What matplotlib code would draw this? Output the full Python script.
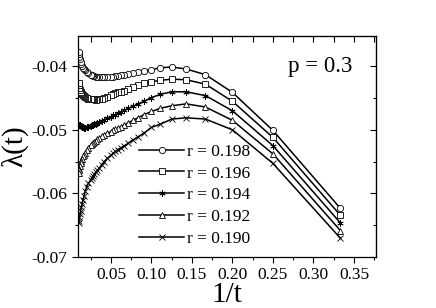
import matplotlib
matplotlib.use("Agg")
import matplotlib.pyplot as plt
from matplotlib.ticker import MultipleLocator, FormatStrFormatter

plt.rcParams['font.family'] = ['Liberation Serif', 'DejaVu Serif']
plt.rcParams['axes.unicode_minus'] = False

t_vals = [3, 4, 5, 6, 7, 8, 9, 10, 11, 12, 13, 14, 15, 16, 17, 18, 19, 20,
          22, 24, 26, 28, 30, 32, 34, 36, 38, 40,
          45, 50, 55, 60, 65, 70, 75, 80, 85, 90, 95, 100]

lam_198 = [-0.0624, -0.0501, -0.0441, -0.0413, -0.0404, -0.0401, -0.0402, -0.0405, -0.0407, -0.0409,
           -0.04105, -0.0412, -0.0413, -0.0414, -0.0415, -0.04155, -0.0416, -0.04163,
           -0.04167, -0.0417, -0.0417, -0.0417, -0.0416, -0.0416, -0.0415, -0.0415, -0.0414, -0.0413,
           -0.0411, -0.0408, -0.0406, -0.0404, -0.0402, -0.0399, -0.0396, -0.0393, -0.0389, -0.0385, -0.0381, -0.0377]
lam_196 = [-0.0635, -0.0512, -0.0455, -0.0428, -0.0421, -0.0420, -0.0422, -0.0424, -0.0426, -0.0430,
           -0.0433, -0.0436, -0.0438, -0.0440, -0.0441, -0.0442, -0.0444, -0.0445,
           -0.0448, -0.0450, -0.0451, -0.0452, -0.0452, -0.04525, -0.0452, -0.0452, -0.0452, -0.0451,
           -0.04515, -0.0450, -0.0448, -0.0447, -0.0445, -0.0443, -0.0442, -0.0440, -0.0437, -0.0434, -0.0430, -0.0426]
lam_194 = [-0.0647, -0.0525, -0.0470, -0.0446, -0.0440, -0.0440, -0.0444, -0.0449, -0.0455, -0.0459,
           -0.0463, -0.0466, -0.0469, -0.0472, -0.0474, -0.0476, -0.0477, -0.0479,
           -0.0482, -0.0484, -0.0486, -0.0488, -0.0489, -0.0490, -0.0491, -0.0492, -0.0493, -0.0494,
           -0.0495, -0.0496, -0.0497, -0.0497, -0.0496, -0.0495, -0.0494, -0.0494, -0.0493, -0.0493, -0.0492, -0.0492]
lam_192 = [-0.0659, -0.0538, -0.0485, -0.0464, -0.0459, -0.0462, -0.0466, -0.0471, -0.0476, -0.0481,
           -0.0485, -0.0489, -0.0492, -0.0495, -0.0497, -0.0499, -0.0501, -0.0503,
           -0.0505, -0.0508, -0.0510, -0.0513, -0.0515, -0.0517, -0.0519, -0.0521, -0.0522, -0.0524,
           -0.0528, -0.0532, -0.0536, -0.0539, -0.0542, -0.0546, -0.0549, -0.0553, -0.0557, -0.0561, -0.0564, -0.0568]
lam_190 = [-0.0671, -0.0553, -0.0500, -0.0483, -0.0481, -0.0483, -0.0491, -0.0496, -0.0505, -0.0511,
           -0.0516, -0.0521, -0.0525, -0.0528, -0.0531, -0.0534, -0.0537, -0.0540,
           -0.0545, -0.0550, -0.0555, -0.0560, -0.0564, -0.0567, -0.0570, -0.0573, -0.0576, -0.0579,
           -0.0584, -0.0590, -0.0597, -0.0605, -0.0611, -0.0617, -0.0622, -0.0628, -0.0633, -0.0638, -0.0643, -0.0647]

series = [("r = 0.198", lam_198, "o"),
          ("r = 0.196", lam_196, "s"),
          ("r = 0.194", lam_194, (6, 2, 0)),
          ("r = 0.192", lam_192, "^"),
          ("r = 0.190", lam_190, "x")]

inv_t = [1.0 / t for t in t_vals]

fig = plt.figure(figsize=(4.36, 3.08), dpi=100)
ax = fig.add_axes([0.1789, 0.1666, 0.6828, 0.7165])

for label, vals, mk in series:
    ax.plot(inv_t, vals, color='black', lw=1.1, marker=mk, markersize=4.5,
            markerfacecolor='white', markeredgecolor='black', markeredgewidth=0.6,
            label=label)

ax.set_xlim(0.0093, 0.3768)
ax.set_ylim(-0.07, -0.0352)
ax.xaxis.set_major_locator(MultipleLocator(0.05))
ax.xaxis.set_minor_locator(MultipleLocator(0.025))
ax.yaxis.set_major_locator(MultipleLocator(0.01))
ax.yaxis.set_minor_locator(MultipleLocator(0.005))
ax.xaxis.set_major_formatter(FormatStrFormatter('%.2f'))
ax.yaxis.set_major_formatter(FormatStrFormatter('%.2f'))
ax.set_xticks([0.05, 0.10, 0.15, 0.20, 0.25, 0.30, 0.35])

ax.tick_params(which='both', bottom=True, left=True, top=False, right=False,
               direction='out', labelsize=12.5, width=0.8)
ax.tick_params(which='major', length=4.5)
ax.tick_params(which='minor', length=2.5)
ax.tick_params(axis='x', pad=3)

# inward ticks on top/right
sec_x = ax.secondary_xaxis('top')
sec_x.xaxis.set_major_locator(MultipleLocator(0.05))
sec_x.xaxis.set_minor_locator(MultipleLocator(0.025))
sec_x.tick_params(which='both', direction='in', labeltop=False, width=0.8)
sec_x.tick_params(which='major', length=4.5)
sec_x.tick_params(which='minor', length=4)
sec_y = ax.secondary_yaxis('right')
sec_y.yaxis.set_major_locator(MultipleLocator(0.01))
sec_y.yaxis.set_minor_locator(MultipleLocator(0.005))
sec_y.tick_params(which='both', direction='in', labelright=False, width=0.8)
sec_y.tick_params(which='major', length=4.5)
sec_y.tick_params(which='minor', length=2.5)

for sp in ax.spines.values():
    sp.set_linewidth(0.9)

ax.set_xlabel("1/t", fontsize=21, labelpad=-1)
ax.set_ylabel("λ(t)", fontsize=21, labelpad=2)

ax.text(0.92, 0.86, "p = 0.3", transform=ax.transAxes, fontsize=16.5,
        ha='right', va='center')

ax.legend(loc='lower left', bbox_to_anchor=(0.165, -0.012), frameon=False,
          fontsize=12.5, handlelength=2.6, handletextpad=0.15, labelspacing=0.33,
          borderpad=0.2)

fig.savefig("out.png", dpi=100)
